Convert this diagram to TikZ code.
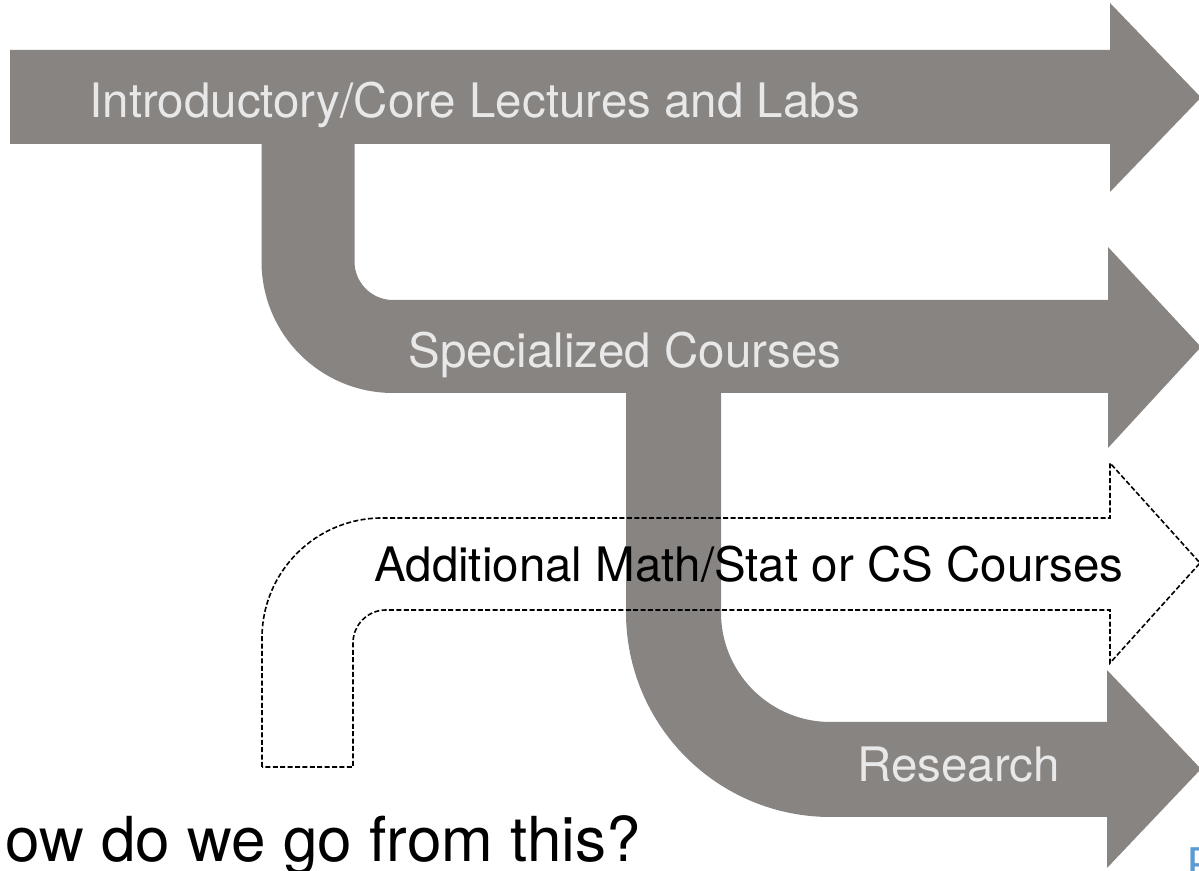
\documentclass[tikz,border=0pt]{standalone}
\usepackage{fontspec}
\setmainfont{TeX Gyre Heros}
\newfontfamily\pfont{Carlito}
\definecolor{arrowgrey}{HTML}{888482}
\definecolor{lighttext}{HTML}{E8E8E8}
\definecolor{pblue}{HTML}{5B9BD5}
\begin{document}
\begin{tikzpicture}[x=0.5pt,y=0.5pt,
  greyfill/.style={fill=arrowgrey,draw=none},
  bendstroke/.style={draw=arrowgrey,line cap=butt},
  dashedoutline/.style={draw=black,line width=0.8pt,dash pattern=on 2.5pt off 1.2pt,line join=miter},
  lbl/.style={anchor=base west,inner sep=0pt,font=\fontsize{23.75}{28}\selectfont},
  greylbl/.style={lbl,text=lighttext},
  blacklbl/.style={lbl,text=black}]
\useasboundingbox (0,0) rectangle (1199,871);
% arrow 1
\fill[greyfill] (10,821) -- (1110,821) -- (1110,868) -- (1201,773.5) -- (1110,679) -- (1110,727) -- (10,727) -- cycle;
% bend into arrow 2
\draw[bendstroke,line width=46.5pt,rounded corners=42.5pt] (308,735) -- (308,524.5) -- (1112,524.5);
\fill[greyfill] (1108,624) -- (1201,524) -- (1108,423) -- cycle;
% bend into research arrow
\draw[bendstroke,line width=47.5pt,rounded corners=78.5pt] (673.5,485) -- (673.5,101.5) -- (1110,101.5);
\fill[greyfill] (1107,201) -- (1201,102) -- (1107,3) -- cycle;
% dashed arrow
\draw[dashedoutline] (262,104) -- (262,233) arc[start angle=180,end angle=90,radius=60pt]
  -- (1110,353) -- (1110,408) -- (1200,308) -- (1110,208) -- (1110,261) -- (386,261)
  arc[start angle=90,end angle=180,radius=16.5pt] -- (353,104) -- cycle;
% labels
\node[greylbl] (intro) at (89,753) {Introductory/Core Lectures and Labs};
\node[greylbl] (spec) at (408,503) {Specialized Courses};
\node[blacklbl] (addl) at (374,289) {Additional Math/Stat or CS Courses};
\node[greylbl] (res) at (857,89) {Research};
\node[anchor=base west,inner sep=0pt,font=\fontsize{31}{36}\selectfont] (q) at (5,9) {ow do we go from this?};
\node[anchor=base west,inner sep=0pt,text=pblue,font=\pfont\fontsize{24}{28}\selectfont] (p) at (1187,-8) {P};
\end{tikzpicture}
\end{document}
